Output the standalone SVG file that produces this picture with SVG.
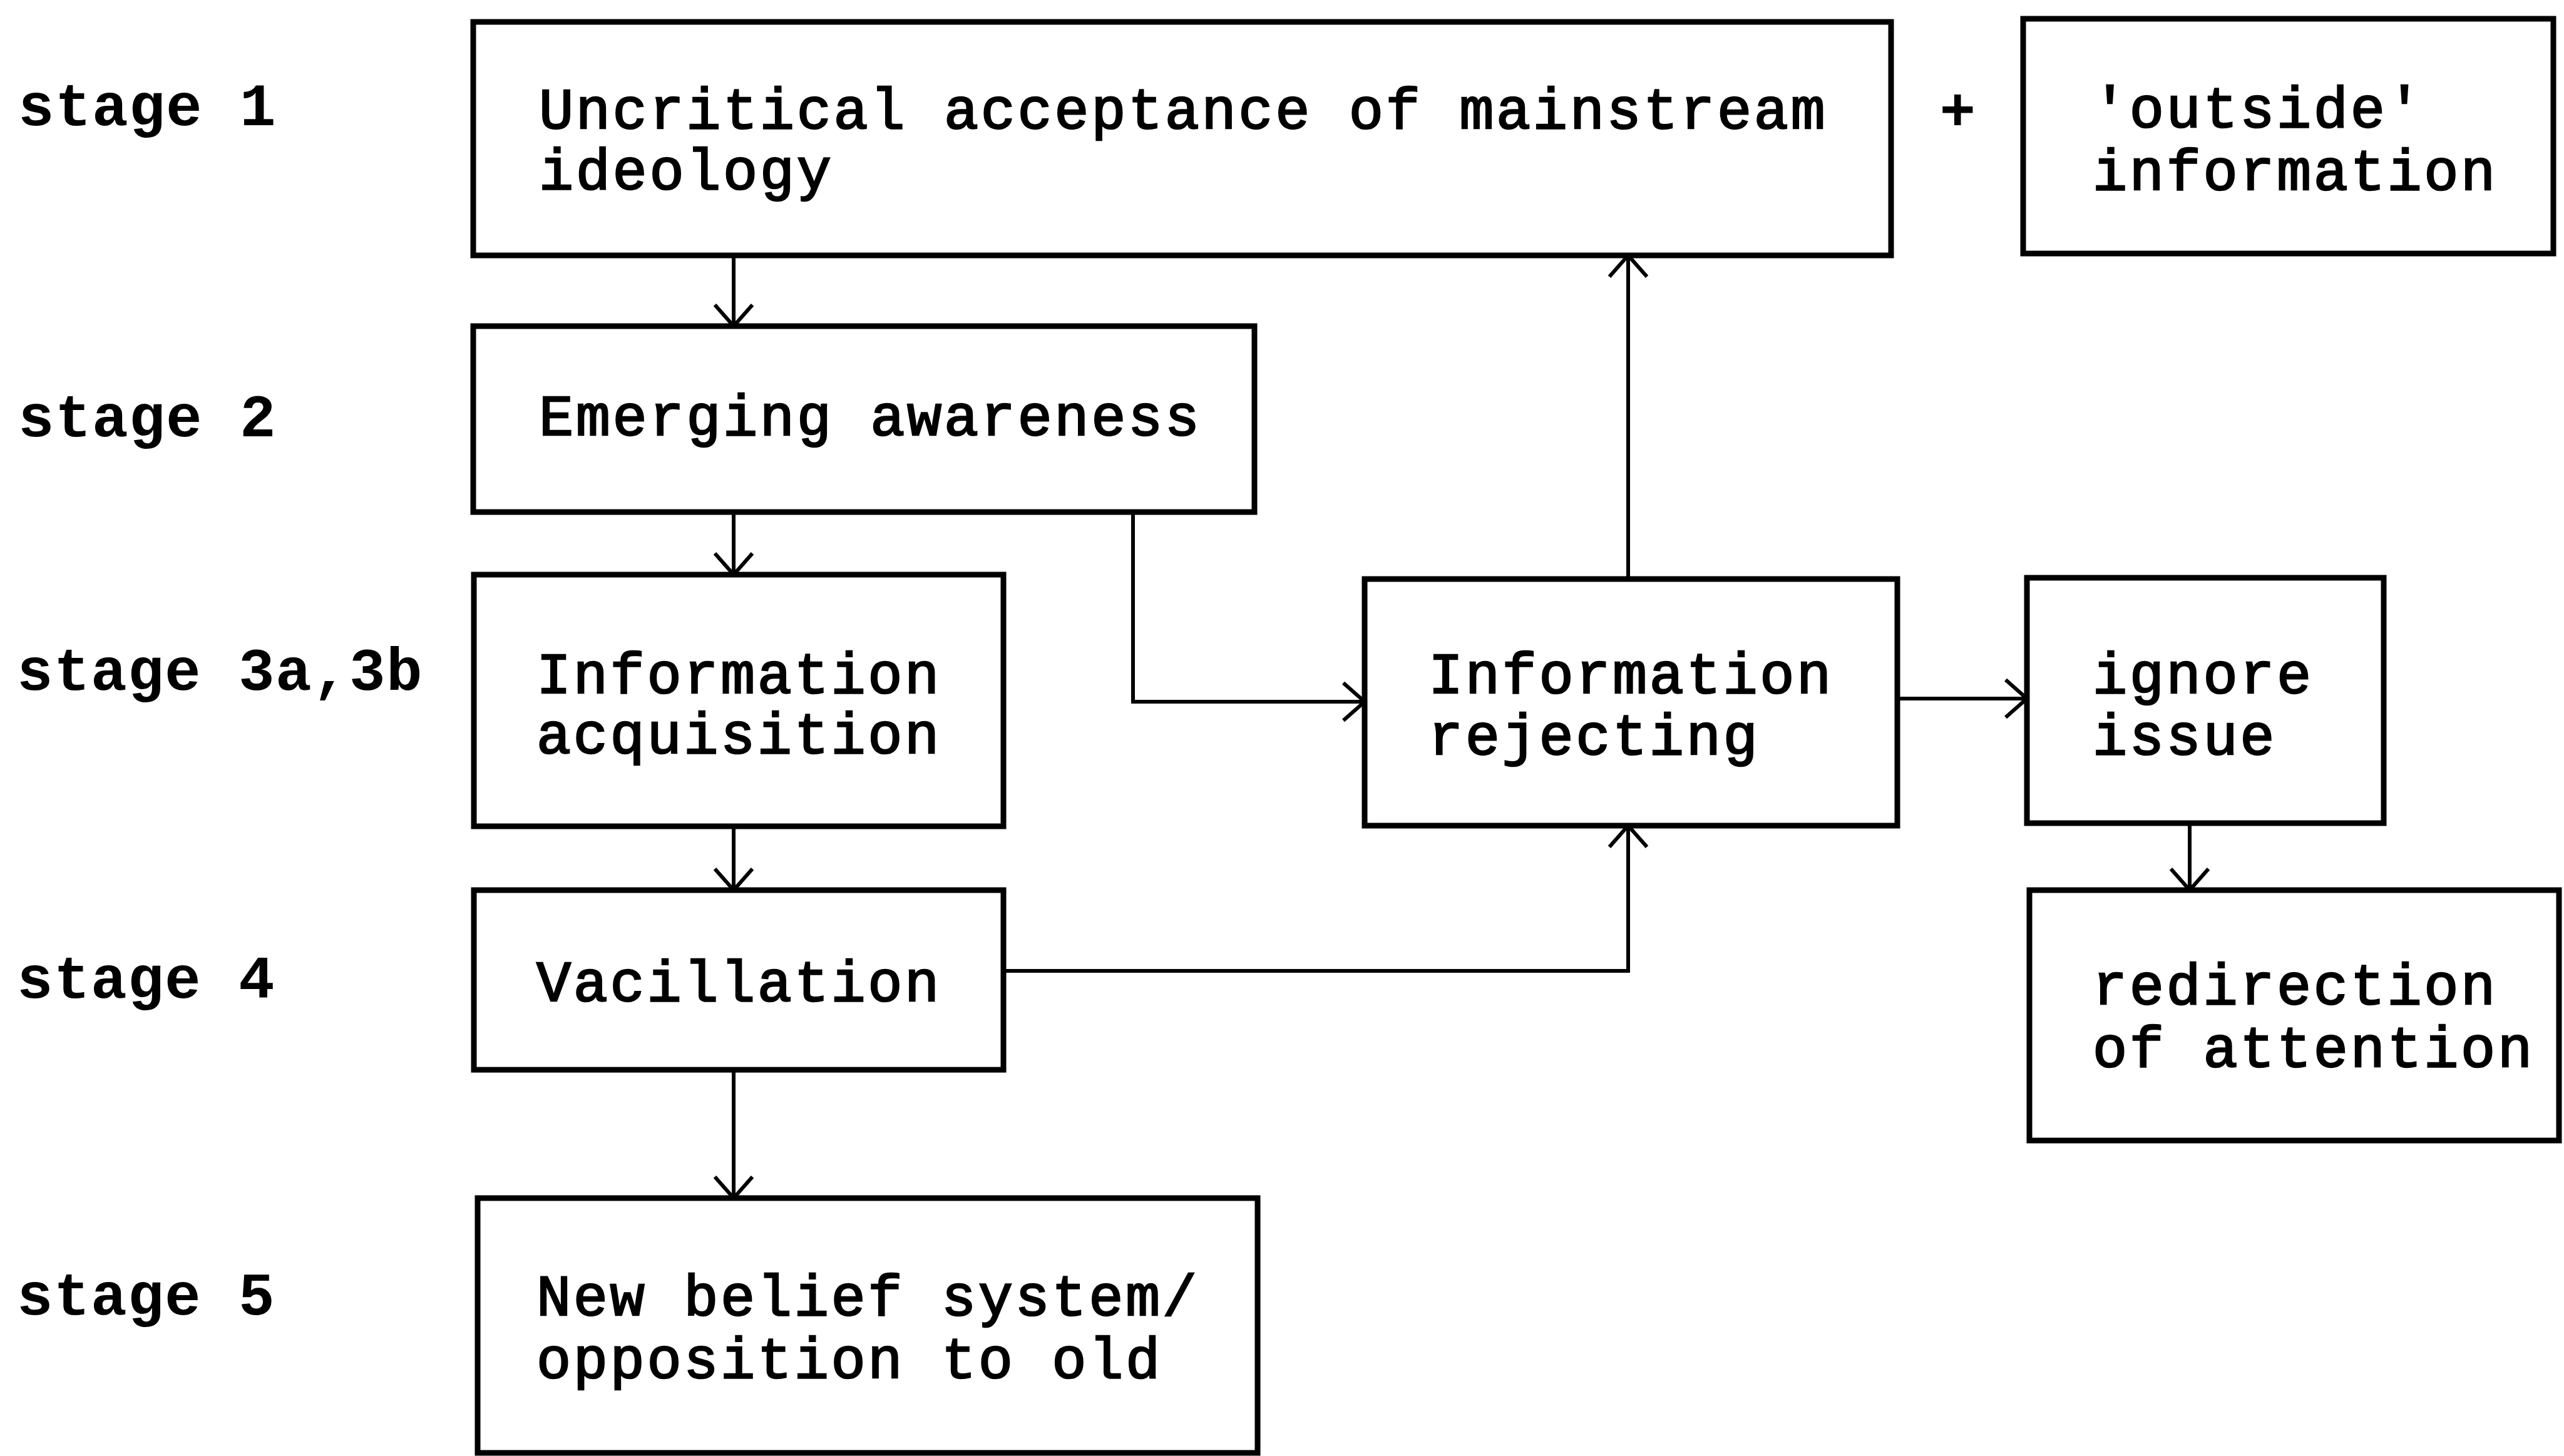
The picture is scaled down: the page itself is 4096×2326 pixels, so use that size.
<svg xmlns="http://www.w3.org/2000/svg" width="4096" height="2326" viewBox="0 0 4096 2326">
<style>
.box{fill:#fff;stroke:#000;stroke-width:9}
.t{font-family:"Liberation Mono","DejaVu Sans Mono",monospace;font-size:92px;letter-spacing:3.6px;fill:#000;stroke:#000;stroke-width:2.5}
.s{font-family:"Liberation Mono","DejaVu Sans Mono",monospace;font-size:96px;font-weight:bold;letter-spacing:1.4px;fill:#000}
.c{fill:none;stroke:#000;stroke-width:6}
</style>
<defs>
<marker id="ah" markerUnits="userSpaceOnUse" viewBox="-45 -45 55 90" markerWidth="55" markerHeight="90" refX="0" refY="0" orient="auto">
<path d="M-34,-30 L0,0 L-34,30" fill="none" stroke="#000" stroke-width="6"/>
</marker>
</defs>
<rect width="4096" height="2326" fill="#fff"/>
<g id="stage-labels">
<text class="s" x="29" y="200">stage 1</text>
<text class="s" x="29" y="697">stage 2</text>
<text class="s" x="27" y="1102">stage 3a,3b</text>
<text class="s" x="27" y="1594">stage 4</text>
<text class="s" x="27" y="2100">stage 5</text>
</g>
<g id="connectors">
<path class="c" d="M1172,408 V521" marker-end="url(#ah)"/>
<path class="c" d="M1172,818 V918" marker-end="url(#ah)"/>
<path class="c" d="M1172,1320 V1422" marker-end="url(#ah)"/>
<path class="c" d="M1172,1709 V1914" marker-end="url(#ah)"/>
<path class="c" d="M1810,818 V1121 H2180" marker-end="url(#ah)"/>
<path class="c" d="M2601,925 V408" marker-end="url(#ah)"/>
<path class="c" d="M1603,1551 H2601 V1319" marker-end="url(#ah)"/>
<path class="c" d="M3031,1116 H3238" marker-end="url(#ah)"/>
<path class="c" d="M3498,1315 V1422" marker-end="url(#ah)"/>
</g>
<g id="node-uncritical">
<rect class="box" x="756" y="35" width="2265" height="373"/>
<text class="t" x="861" y="205">Uncritical acceptance of mainstream</text>
<text class="t" x="861" y="302">ideology</text>
</g>
<g id="plus">
<text class="s" x="3128" y="208" text-anchor="middle">+</text>
</g>
<g id="node-outside">
<rect class="box" x="3232" y="30" width="847" height="375"/>
<text class="t" x="3343" y="203">'outside'</text>
<text class="t" x="3343" y="303">information</text>
</g>
<g id="node-emerging">
<rect class="box" x="756" y="521" width="1248" height="297"/>
<text class="t" x="861" y="695">Emerging awareness</text>
</g>
<g id="node-acquisition">
<rect class="box" x="757" y="918" width="846" height="402"/>
<text class="t" x="857" y="1107">Information</text>
<text class="t" x="857" y="1203">acquisition</text>
</g>
<g id="node-vacillation">
<rect class="box" x="757" y="1422" width="846" height="287"/>
<text class="t" x="857" y="1599">Vacillation</text>
</g>
<g id="node-newbelief">
<rect class="box" x="763" y="1914" width="1246" height="407"/>
<text class="t" x="857" y="2101">New belief system/</text>
<text class="t" x="857" y="2201">opposition to old</text>
</g>
<g id="node-rejecting">
<rect class="box" x="2180" y="925" width="851" height="394"/>
<text class="t" x="2282" y="1107">Information</text>
<text class="t" x="2282" y="1205">rejecting</text>
</g>
<g id="node-ignore">
<rect class="box" x="3238" y="923" width="570" height="392"/>
<text class="t" x="3343" y="1107">ignore</text>
<text class="t" x="3343" y="1205">issue</text>
</g>
<g id="node-redirection">
<rect class="box" x="3242" y="1422" width="846" height="400"/>
<text class="t" x="3343" y="1604">redirection</text>
<text class="t" x="3343" y="1704">of attention</text>
</g>
</svg>
